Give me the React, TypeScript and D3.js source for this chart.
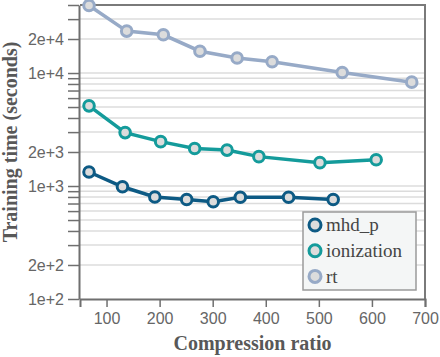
import React, { useEffect, useRef } from 'react';
import * as d3 from 'd3';

// compression ratio / training time (s) per dataset
const seriesNames = ['mhd_p', 'ionization', 'rt'];
const mhdX = [67, 130, 191, 251, 301, 352, 443, 527];
const mhdY = [1330, 985, 800, 760, 725, 795, 795, 760];
const ionX = [67, 135, 202, 266, 327, 387, 502, 608];
const ionY = [5120, 2970, 2470, 2150, 2080, 1820, 1610, 1710];
const rtX = [67, 138, 207, 276, 346, 412, 544, 675];
const rtY = [39600, 23500, 21800, 15600, 13600, 12600, 10100, 8300];

const xTicks = [100, 200, 300, 400, 500, 600, 700];
const yLabelled = [100, 200, 1000, 2000, 10000, 20000];

const colors = ['#0d5a84', '#149b9b', '#97aac7'];

const W = 440;
const H = 357;

export default function App() {
  const ref = useRef<SVGSVGElement>(null);

  useEffect(() => {
    const svg = d3.select(ref.current);
    svg.selectAll('*').remove();

    const left = 80, right = 425, top = 5, bottom = 299;

    const x = d3.scaleLinear().domain([50, 700]).range([left, right]);
    const y = d3.scaleLog().domain([100, 40000]).range([bottom, top]);

    const yTicks = y.ticks();

    // grid
    svg.append('g')
      .selectAll('line')
      .data(yTicks.filter((t) => t > 100))
      .enter()
      .append('line')
      .attr('x1', left)
      .attr('x2', right)
      .attr('y1', (d) => y(d))
      .attr('y2', (d) => y(d))
      .style('stroke', '#dcdcdc')
      .style('stroke-width', 1.5);

    // box
    svg.append('path')
      .attr('d', `M${left},${top}H${right}V${bottom}`)
      .style('fill', 'none')
      .style('stroke', '#7a7a7a')
      .style('stroke-width', 2);

    // y axis
    const yAxis = d3.axisLeft(y)
      .tickValues(yTicks)
      .tickSize(11)
      .tickSizeOuter(0)
      .tickPadding(4)
      .tickFormat((d) => {
        const v = +d;
        if (!yLabelled.includes(v)) return '';
        const e = Math.floor(Math.log10(v) + 1e-9);
        return `${Math.round(v / Math.pow(10, e))}e+${e}`;
      });

    const gy = svg.append('g')
      .attr('transform', `translate(${left - 1},0)`)
      .call(yAxis);
    gy.select('.domain').style('stroke', '#6f6f6f').style('stroke-width', 2);
    gy.selectAll('.tick line').style('stroke', '#6f6f6f').style('stroke-width', 1.5);
    gy.selectAll('.tick text')
      .style('font-family', '"Liberation Sans", Arial, sans-serif')
      .style('font-size', '16px')
      .style('fill', '#666');

    // x axis
    const xAxis = d3.axisBottom(x)
      .tickValues(xTicks)
      .tickSize(8)
      .tickSizeOuter(8)
      .tickPadding(6);

    const gx = svg.append('g')
      .attr('transform', `translate(0,${bottom})`)
      .call(xAxis);
    gx.select('.domain').style('stroke', '#6f6f6f').style('stroke-width', 2);
    gx.selectAll('.tick line').style('stroke', '#6f6f6f').style('stroke-width', 1.5);
    gx.selectAll('.tick text')
      .style('font-family', '"Liberation Sans", Arial, sans-serif')
      .style('font-size', '16px')
      .style('fill', '#666');

    // titles
    svg.append('text')
      .attr('x', (left + right) / 2)
      .attr('y', 350)
      .attr('text-anchor', 'middle')
      .style('font-family', '"Liberation Serif", "Times New Roman", serif')
      .style('font-weight', 'bold')
      .style('font-size', '20px')
      .style('fill', '#585858')
      .text('Compression ratio');

    svg.append('text')
      .attr('transform', 'translate(17,142) rotate(-90)')
      .attr('text-anchor', 'middle')
      .style('font-family', '"Liberation Serif", "Times New Roman", serif')
      .style('font-weight', 'bold')
      .style('font-size', '20px')
      .style('fill', '#585858')
      .text('Training time (seconds)');

    // series
    const data = [
      { name: seriesNames[0], xs: mhdX, ys: mhdY, color: colors[0] },
      { name: seriesNames[1], xs: ionX, ys: ionY, color: colors[1] },
      { name: seriesNames[2], xs: rtX, ys: rtY, color: colors[2] },
    ];

    const line = d3.line<[number, number]>()
      .x((d) => x(d[0]))
      .y((d) => y(d[1]));

    data.forEach((s) => {
      const pts: [number, number][] = s.xs.map((v, i) => [v, s.ys[i]]);
      const g = svg.append('g');
      g.append('path')
        .attr('d', line(pts))
        .style('fill', 'none')
        .style('stroke', s.color)
        .style('stroke-width', 3.5);
      g.selectAll('circle')
        .data(pts)
        .enter()
        .append('circle')
        .attr('cx', (d) => x(d[0]))
        .attr('cy', (d) => y(d[1]))
        .attr('r', 5.3)
        .style('fill', '#dcdcdc')
        .style('stroke', s.color)
        .style('stroke-width', 3);
    });

    // legend
    const lg = svg.append('g').attr('transform', 'translate(303,212)');
    lg.append('rect')
      .attr('width', 113)
      .attr('height', 78)
      .style('fill', '#f4f6f6')
      .style('stroke', '#9a9a9a')
      .style('stroke-width', 1.5);

    data.forEach((s, i) => {
      lg.append('circle')
        .attr('cx', 12)
        .attr('cy', 13 + i * 25.7)
        .attr('r', 6)
        .style('fill', '#dcdcdc')
        .style('stroke', s.color)
        .style('stroke-width', 3);
      lg.append('text')
        .attr('x', 23)
        .attr('y', 13 + i * 25.7)
        .attr('dy', '0.33em')
        .style('font-family', '"Liberation Serif", "Times New Roman", serif')
        .style('font-size', '19px')
        .style('fill', '#454545')
        .text(s.name);
    });
  }, []);

  return (
    <svg
      ref={ref}
      width={W}
      height={H}
      style={{ position: 'absolute', left: 0, top: 0, background: '#fff' }}
    />
  );
}
